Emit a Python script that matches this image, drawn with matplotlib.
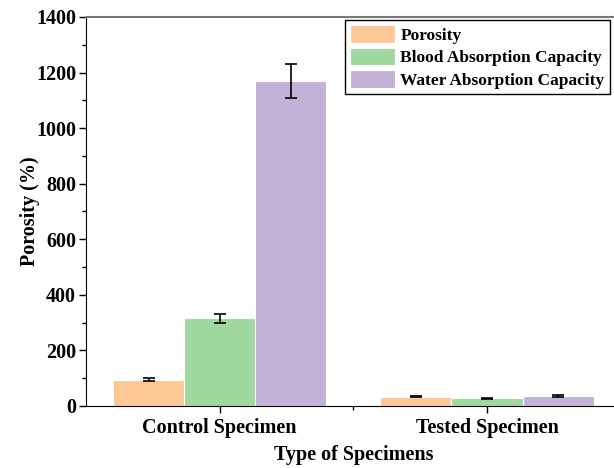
import matplotlib
matplotlib.use("Agg")
import matplotlib.pyplot as plt
import numpy as np

plt.rcParams['font.family'] = ['Liberation Serif', 'DejaVu Serif']
plt.rcParams['font.weight'] = 'bold'

categories = ["Control Specimen", "Tested Specimen"]
series_names = ["Porosity", "Blood Absorption Capacity", "Water Absorption Capacity"]
porosity = [94, 34]
porosity_err = [5, 3]
blood = [315, 27]
blood_err = [17, 2]
water = [1170, 35]
water_err = [60, 3]
colors = ["#FDC896", "#9FD89E", "#C2B2D8"]

fig = plt.figure(figsize=(6.14, 4.68), dpi=100)
ax = fig.add_axes([0.140, 0.1325, 0.871, 0.8312])

x = np.arange(len(categories))
w = 0.266
vals = [porosity, blood, water]
errs = [porosity_err, blood_err, water_err]
for i, (v, e, c, n) in enumerate(zip(vals, errs, colors, series_names)):
    ax.bar(x + (i - 1) * w, v, w, color=c, edgecolor='white', linewidth=0.8, label=n,
           yerr=e, capsize=4, error_kw=dict(ecolor='black', elinewidth=1.2, capthick=1.2))

ax.set_xlim(-0.5, 1.5)
ax.set_ylim(0, 1400)
ax.set_yticks(np.arange(0, 1401, 200))
ax.set_yticks(np.arange(100, 1400, 200), minor=True)
ax.set_xticks(x)
ax.set_xticks([0.5], minor=True)
ax.set_xticklabels(categories, fontsize=14.5, fontweight='bold')
ax.tick_params(axis='y', labelsize=14.5, length=5, width=1, pad=2)
ax.tick_params(axis='y', which='minor', length=3, width=1)
ax.tick_params(axis='x', length=5, width=1, pad=4)
ax.tick_params(axis='x', which='minor', length=3, width=1)
for lab in ax.get_yticklabels():
    lab.set_fontweight('bold')
ax.set_ylabel("Porosity (%)", fontsize=14.5, fontweight='bold', va='center')
ax.yaxis.set_label_coords(-0.105, 0.5)
ax.set_xlabel("Type of Specimens", fontsize=14.5, fontweight='bold', va='center')
ax.xaxis.set_label_coords(0.5, -0.126)
ax.spines['top'].set_color('#777777')
ax.spines['top'].set_linewidth(1.5)

leg = ax.legend(loc='upper left', bbox_to_anchor=(0.484, 0.992), fontsize=12.5,
                frameon=True, fancybox=False, edgecolor='black', framealpha=1,
                handlelength=2.6, handleheight=1.2, handletextpad=0.3,
                labelspacing=0.2, borderpad=0.3, borderaxespad=0)
leg.get_frame().set_linewidth(1.0)
for t in leg.get_texts():
    t.set_fontweight('bold')

fig.savefig("out.png", dpi=100)
